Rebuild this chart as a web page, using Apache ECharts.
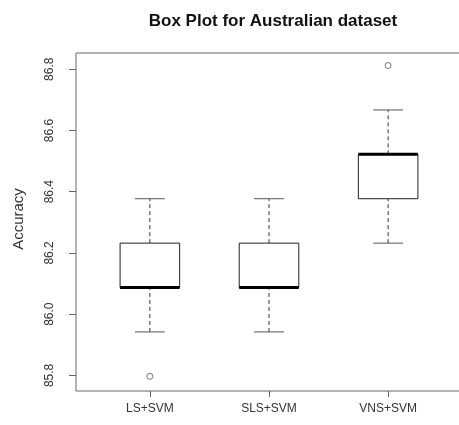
<!DOCTYPE html>
<html>
<head>
<meta charset="utf-8">
<script src="https://cdn.jsdelivr.net/npm/echarts@6/dist/echarts.min.js"></script>
<style>html,body{margin:0;padding:0;background:#fff;}#main{width:459px;height:425px;}</style>
</head>
<body>
<div id="main"></div>
<script>
const categories = ['LS+SVM', 'SLS+SVM', 'VNS+SVM'];
const whiskerLow = [85.942, 85.942, 86.232];
const q1 = [86.087, 86.087, 86.377];
const median = [86.087, 86.087, 86.522];
const q3 = [86.232, 86.232, 86.522];
const whiskerHigh = [86.377, 86.377, 86.667];
const outliers = [[0, 85.797], [2, 86.812]];
const yTicks = [85.8, 86.0, 86.2, 86.4, 86.6, 86.8];

const FONT = "'Liberation Sans', Arial, sans-serif";
const boxData = categories.map((c, i) => [i + 1, whiskerLow[i], q1[i], median[i], q3[i], whiskerHigh[i]]);
const outlierData = outliers.map(o => [o[0] + 1, o[1]]);

const chart = echarts.init(document.getElementById('main'), null, {renderer: 'canvas'});
chart.setOption({
  animation: false,
  backgroundColor: '#fff',
  title: {
    text: 'Box Plot for Australian dataset',
    left: 268, top: 8, textAlign: 'center',
    textStyle: {fontFamily: FONT, fontSize: 17, fontWeight: 'bold', color: '#111'}
  },
  graphic: [{
    type: 'text', x: 19, y: 219, rotation: Math.PI / 2,
    style: {text: 'Accuracy', font: '15px ' + FONT, fill: '#333', textAlign: 'center', textVerticalAlign: 'middle'}
  }],
  grid: {left: 76, width: 386, top: 53, bottom: 34, outerBoundsMode: 'none', containLabel: false,
    show: true, borderColor: '#666', borderWidth: 1, backgroundColor: 'transparent'},
  xAxis: {
    type: 'value', min: 0.38, max: 3.62,
    axisLine: {show: false}, splitLine: {show: false},
    axisTick: {show: true, length: 6, customValues: [1, 2, 3], lineStyle: {color: '#666'}},
    axisLabel: {customValues: [1, 2, 3], margin: 12, fontFamily: FONT, fontSize: 12, color: '#333',
      formatter: v => categories[Math.round(v) - 1]}
  },
  yAxis: {
    type: 'value', min: 85.749, max: 86.853,
    axisLine: {show: false}, splitLine: {show: false},
    axisTick: {show: true, length: 7, customValues: yTicks, lineStyle: {color: '#666'}},
    axisLabel: {customValues: yTicks, rotate: 90, margin: 20, fontFamily: FONT, fontSize: 12, color: '#333',
      formatter: v => v.toFixed(1)}
  },
  series: [{
    type: 'custom',
    data: boxData,
    encode: {x: 0, y: [1, 2, 3, 4, 5]},
    renderItem: function (params, api) {
      const x = api.value(0);
      const halfBox = api.size([0.25, 0])[0];
      const halfCap = api.size([0.125, 0])[0];
      const cx = api.coord([x, 0])[0];
      const yl = api.coord([x, api.value(1)])[1];
      const y1 = api.coord([x, api.value(2)])[1];
      const ym = api.coord([x, api.value(3)])[1];
      const y3 = api.coord([x, api.value(4)])[1];
      const yh = api.coord([x, api.value(5)])[1];
      const dash = {stroke: '#333', lineWidth: 1, lineDash: [4, 3]};
      const solid = {stroke: '#555', lineWidth: 1};
      return {
        type: 'group',
        children: [
          {type: 'line', shape: {x1: cx, y1: y3, x2: cx, y2: yh}, style: dash},
          {type: 'line', shape: {x1: cx, y1: yl, x2: cx, y2: y1}, style: dash},
          {type: 'line', shape: {x1: cx - halfCap, y1: yh, x2: cx + halfCap, y2: yh}, style: solid},
          {type: 'line', shape: {x1: cx - halfCap, y1: yl, x2: cx + halfCap, y2: yl}, style: solid},
          {type: 'rect', shape: {x: cx - halfBox, y: y3, width: 2 * halfBox, height: y1 - y3},
            style: {fill: '#fff', stroke: '#222', lineWidth: 1}},
          {type: 'line', shape: {x1: cx - halfBox, y1: ym, x2: cx + halfBox, y2: ym},
            style: {stroke: '#000', lineWidth: 3}}
        ]
      };
    }
  }, {
    type: 'scatter',
    data: outlierData,
    symbol: 'circle', symbolSize: 6,
    itemStyle: {color: '#fff', borderColor: '#555', borderWidth: 1}
  }]
});
</script>
</body>
</html>
